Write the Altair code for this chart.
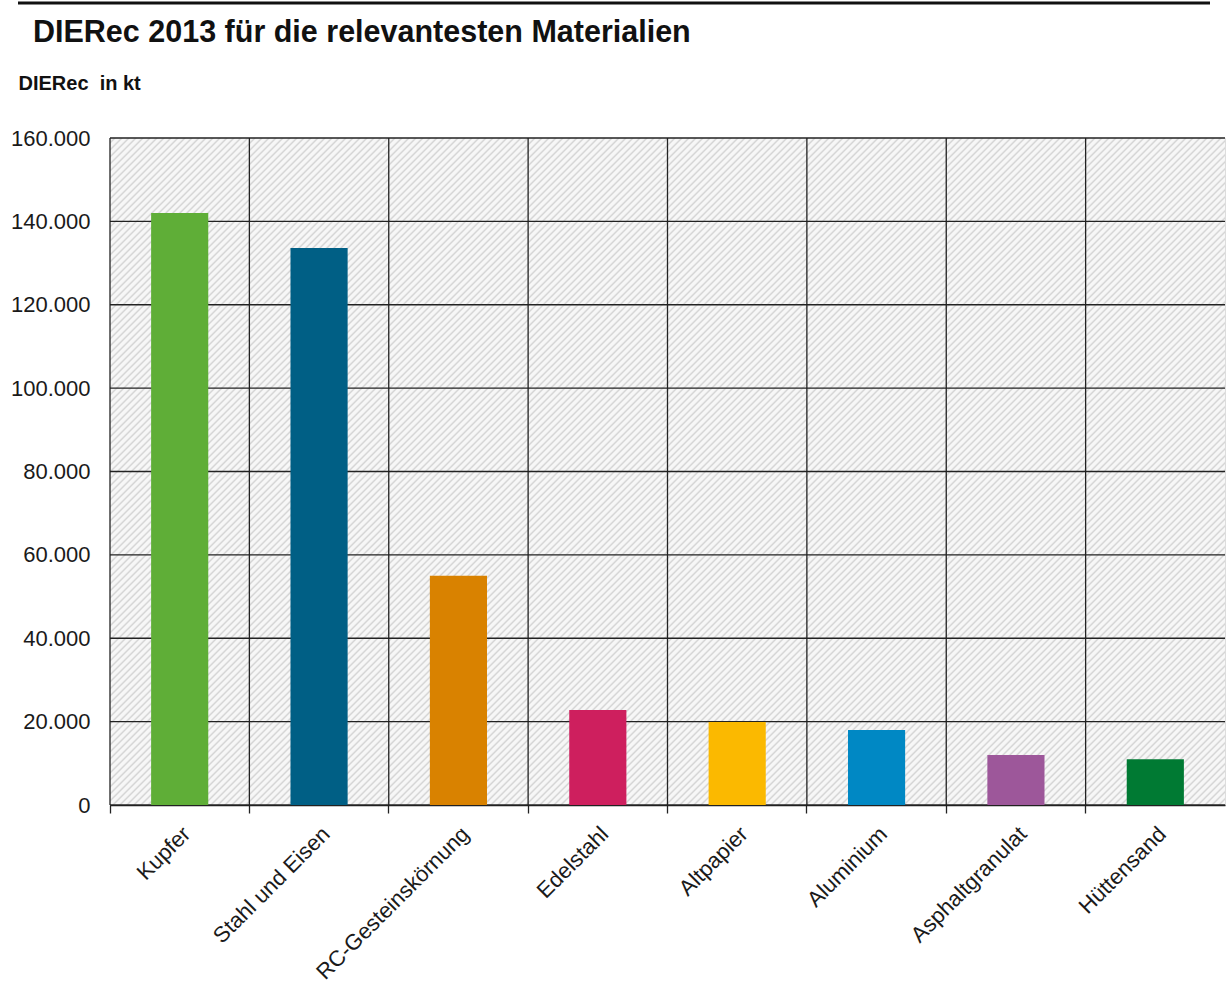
import altair as alt
import pandas as pd

materials = ["Kupfer", "Stahl und Eisen", "RC-Gesteinskörnung", "Edelstahl",
             "Altpapier", "Aluminium", "Asphaltgranulat", "Hüttensand"]
values = [142000, 133600, 55000, 22800, 19900, 18000, 12000, 11000]
colors = ["#5fae37", "#005f85", "#d98200", "#ce1f5e",
          "#fbb900", "#0088c4", "#9d579a", "#007a33"]
y_ticks = [0, 20000, 40000, 60000, 80000, 100000, 120000, 140000, 160000]

df = pd.DataFrame({"Material": materials, "DIERec": values, "Farbe": colors})
grid_df = pd.DataFrame({"DIERec": y_ticks})

W, H = 1115, 667
FONT = "Liberation Sans"
GRID = "#222"

# diagonal hatch background as a striped linear gradient (style only)
period = 7.0
total = W + H
n_per = int(total / period) + 1
stops = []
for k in range(n_per):
    base = k * period / total
    for frac, col in [(0.0, "#f7f7f7"), (0.40, "#f7f7f7"), (0.70, "#d4d4d4"), (0.99, "#f7f7f7")]:
        off = base + frac * period / total
        if off <= 1.0:
            stops.append(alt.GradientStop(offset=off, color=col))
kk = (W + H) / (W * W + H * H)
hatch = alt.LinearGradient(gradient="linear", stops=stops,
                           x1=0, y1=0, x2=W * kk, y2=H * kk)

x_enc = alt.X("Material:N", sort=materials,
              scale=alt.Scale(paddingInner=0, paddingOuter=0),
              axis=alt.Axis(title=None, bandPosition=0,
                            labelAngle=-45, labelAlign="right", labelBaseline="top",
                            labelFont=FONT, labelFontSize=22, labelColor="#1a1a1a",
                            labelLimit=0, labelPadding=10, ticks=True, tickSize=8,
                            tickColor=GRID, tickWidth=1.3, grid=False,
                            domain=True, domainColor=GRID, domainWidth=1.3))
y_scale = alt.Scale(domain=[0, 160000], nice=False)
y_axis = alt.Axis(values=y_ticks, title="DIERec\u00a0 in kt",
                  labelExpr="replace(format(datum.value, ','), ',', '.')",
                  labelFont=FONT, labelFontSize=22, labelColor="#1a1a1a",
                  labelPadding=20, ticks=False, domain=False, grid=False,
                  titleAngle=0, titleX=-92, titleY=-49, titleAlign="left",
                  titleBaseline="alphabetic", titleFont=FONT,
                  titleFontSize=20, titleFontWeight="bold", titleColor="#111")

background = alt.Chart(alt.Data(values=[{}])).mark_rect(fill=hatch).encode(
    x=alt.value(0), x2=alt.value(W), y=alt.value(0), y2=alt.value(H)
)

hgrid = alt.Chart(grid_df).mark_rule(color=GRID, strokeWidth=1.3).encode(
    y=alt.Y("DIERec:Q", scale=y_scale, axis=y_axis)
)

vgrid = alt.Chart(df).mark_rule(color=GRID, strokeWidth=1.3).encode(
    x=alt.X("Material:N", sort=materials, bandPosition=0)
)

bars = alt.Chart(df).mark_bar(width=alt.RelativeBandSize(0.41)).encode(
    x=x_enc,
    y=alt.Y("DIERec:Q", scale=y_scale, axis=y_axis),
    color=alt.Color("Farbe:N", scale=None, legend=None),
)

topline = alt.Chart(alt.Data(values=[{}])).mark_rule(
    color="#111", strokeWidth=3
).encode(x=alt.value(-92), x2=alt.value(1100), y=alt.value(-135))

chart = alt.layer(background, hgrid, vgrid, bars, topline).properties(
    width=W, height=H,
    autosize=alt.AutoSizeParams(type="none"),
    padding={"left": 110, "top": 138, "right": 1, "bottom": 184},
    title=alt.TitleParams(
        "DIERec 2013 für die relevantesten Materialien",
        anchor="start", frame="group", dx=-77, offset=-71,
        baseline="alphabetic",
        font=FONT, fontSize=30.5, fontWeight="bold", color="#111"),
).configure_view(
    stroke=GRID, strokeWidth=1.3
).configure(background="white")

chart.save("out.html", embed_options={"renderer": "svg", "actions": False})
